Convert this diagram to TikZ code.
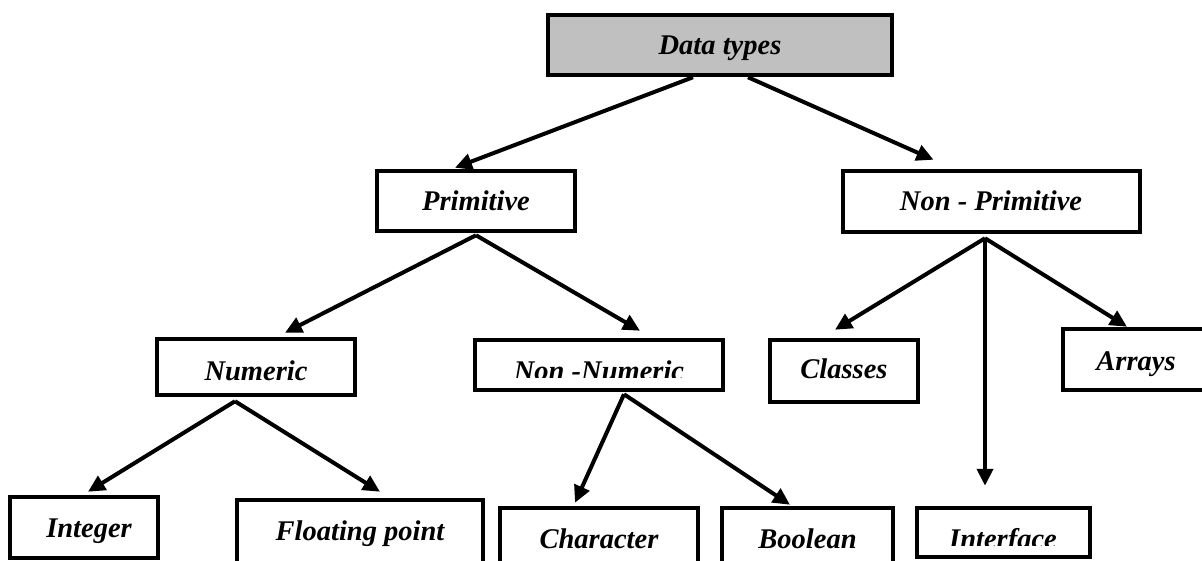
\documentclass[tikz,border=0pt]{standalone}
\usepackage{fontspec}
\setmainfont{Liberation Serif}
\usetikzlibrary{arrows.meta}
\definecolor{boxgray}{RGB}{192,192,192}
\tikzset{
  box/.style={draw=black, line width=4.5pt, inner sep=0pt, rectangle},
  lbl/.style={font=\fontsize{28.5}{30}\selectfont\bfseries\itshape, inner sep=0pt, anchor=base},
  link/.style={line width=4pt, -{Triangle[length=17pt,width=16pt]}},
}
\begin{document}
\begin{tikzpicture}[x=1pt,y=-1pt]
  \clip (0,0) rectangle (1202,561);
  \fill[white] (0,0) rectangle (1202,561);

  % root
  \node[box, fill=boxgray, minimum width=344, minimum height=60] (dt) at (720,45) {};
  \node[lbl] (dt-t) at (720,55) {Data types};

  % second level
  \node[box, minimum width=198, minimum height=60] (prim) at (476,201) {};
  \node[lbl] (prim-t) at (476,211) {Primitive};
  \node[box, minimum width=297, minimum height=61] (nprim) at (991.5,201.5) {};
  \node[lbl] (nprim-t) at (991,211) {Non - Primitive};

  % third level
  \node[box, minimum width=198, minimum height=56] (num) at (256,367) {};
  \node[lbl] (num-t) at (256,380) {Numeric};
  \node[box, minimum width=248, minimum height=50] (nnum) at (599,365) {};
  \begin{scope}
    \clip (477,342) rectangle (721,377);
    \node[lbl] (nnum-t) at (599,380) {Non -Numeric};
  \end{scope}
  \node[box, minimum width=148, minimum height=62] (cls) at (844,371) {};
  \node[lbl] (cls-t) at (844,378) {Classes};
  \node[box, minimum width=145, minimum height=61] (arr) at (1135.5,359.5) {};
  \node[lbl] (arr-t) at (1136,370) {Arrays};

  % leaves
  \node[box, minimum width=148, minimum height=61] (int) at (84,527.5) {};
  \node[lbl] (int-t) at (89,537) {Integer};
  \node[box, minimum width=246, minimum height=80] (flt) at (360,540) {};
  \node[lbl] (flt-t) at (360,540) {Floating point};
  \node[box, minimum width=198, minimum height=72] (chr) at (599,544) {};
  \node[lbl] (chr-t) at (599,548) {Character};
  \node[box, minimum width=171, minimum height=72] (bool) at (807.5,544) {};
  \node[lbl] (bool-t) at (807.5,548) {Boolean};
  \node[box, minimum width=173, minimum height=49] (intf) at (1003.5,532.5) {};
  \begin{scope}
    \clip (919,510) rectangle (1088,545);
    \node[lbl] (intf-t) at (1003,548) {Interface};
  \end{scope}

  % connectors
  \draw[link] ([xshift=-27pt]dt.south) -- ([xshift=-21pt,yshift=1pt]prim.north);
  \draw[link] ([xshift=28pt]dt.south) -- ([xshift=-58pt,yshift=9pt]nprim.north);

  \draw[link] ([yshift=-2pt]prim.south) -- ([xshift=29pt,yshift=4pt]num.north);
  \draw[link] ([yshift=-2pt]prim.south) -- ([xshift=41pt,yshift=7pt]nnum.north);

  \draw[link] ([xshift=-6.5pt,yshift=-4pt]nprim.south) -- ([xshift=-9pt,yshift=8pt]cls.north);
  \draw[link] ([xshift=-6.5pt,yshift=-4pt]nprim.south) -- ([xshift=-18.5pt,yshift=20pt]intf.north);
  \draw[link] ([xshift=-6.5pt,yshift=-4pt]nprim.south) -- ([xshift=-8.5pt]arr.north);

  \draw[link] ([xshift=-21pt,yshift=-4pt]num.south) -- ([xshift=4pt,yshift=3pt]int.north);
  \draw[link] ([xshift=-21pt,yshift=-4pt]num.south) -- ([xshift=20pt,yshift=6pt]flt.north);

  \draw[link] ([xshift=25pt,yshift=-2pt]nnum.south) -- ([xshift=-24pt,yshift=3pt]chr.north);
  \draw[link] ([xshift=25pt,yshift=-2pt]nnum.south) -- ([xshift=-17.5pt,yshift=1pt]bool.north);
\end{tikzpicture}
\end{document}
